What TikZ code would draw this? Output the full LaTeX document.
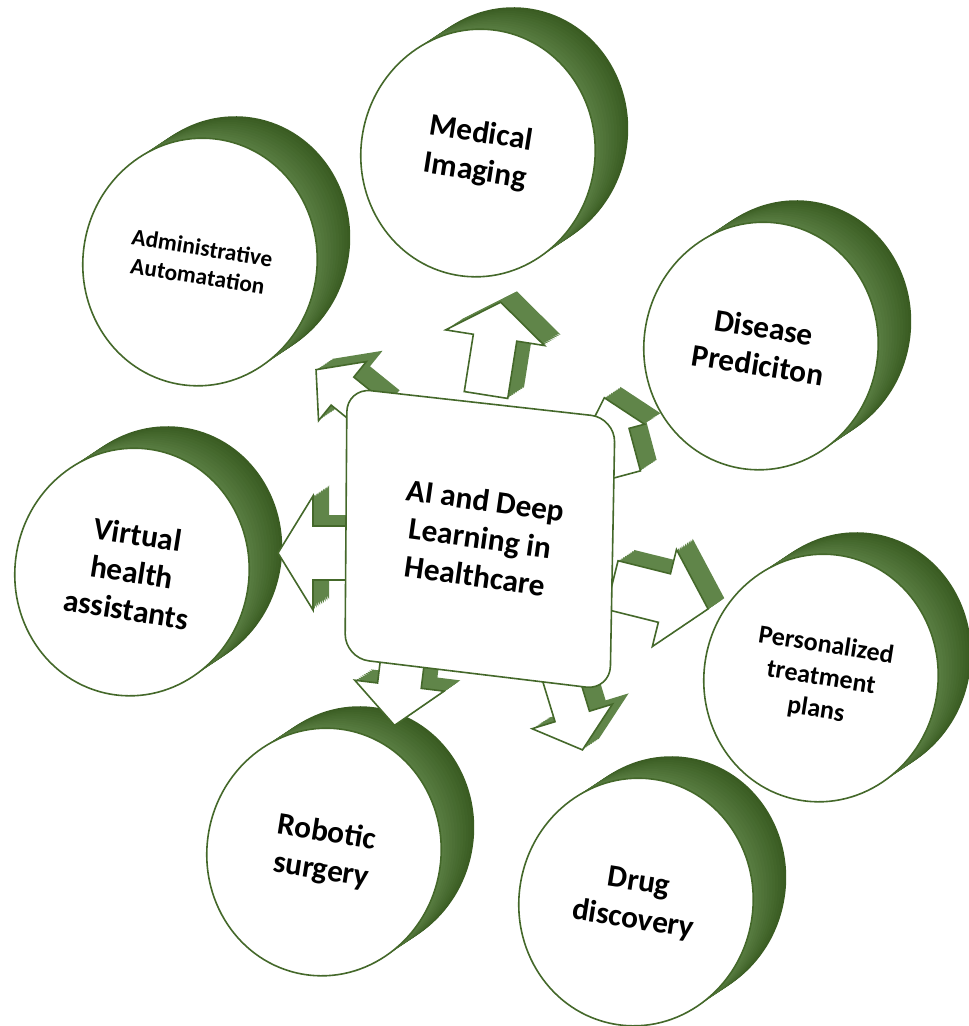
\documentclass[tikz,border=0pt]{standalone}
\usepackage{fontspec}
\setmainfont{Carlito}
\usetikzlibrary{calc}

\definecolor{rimdark}{RGB}{58,92,34}
\definecolor{rimlight}{RGB}{112,150,90}
\definecolor{edgegreen}{RGB}{68,104,42}

\tikzset{every picture/.style={line width=0.75pt}}
\tikzset{
  face/.style={fill=white, draw=edgegreen, line width=1.2pt},
  disk label/.style={align=center, inner sep=0.75pt, font=\fontsize{23.5}{28.5}\selectfont\bfseries},
  arrow shape/.style n args={4}{insert path={(0,-#2) -- (#1-#4,-#2) -- (#1-#4,-#3) -- (#1,0) -- (#1-#4,#3) -- (#1-#4,#2) -- (0,#2) -- cycle}}
}

% disk with rim: name, centre, label, font size
\newcommand{\disk}[4]{%
  \foreach \k in {12,11,...,1}{%
    \pgfmathtruncatemacro{\mix}{40+5*\k}
    \fill[rimdark!\mix!rimlight, shift={(#2)}, shift={(\k*2.75,-\k*1.83)}, rotate=10] (0,0) ellipse [x radius=117, y radius=124];
  }
  \draw[face, shift={(#2)}, rotate=10] (0,0) ellipse [x radius=117, y radius=124];
  \node[disk label, font=\fontsize#4\selectfont\bfseries, rotate=-9] (#1) at (#2) {#3};
}

\begin{document}
\begin{tikzpicture}[x=0.75pt,y=0.75pt,yscale=-1,xscale=1]
\useasboundingbox (0,0) rectangle (969,1026);

% Disks
\disk{adm}{200,262}{Administrative\\Automatation}{{17.5}{21.5}}
\disk{med}{478,153}{Medical\\Imaging}{{23.5}{28.5}}
\disk{dis}{761,346}{Disease\\Prediciton}{{23.5}{28.5}}
\disk{vir}{132,572}{Virtual\\health\\assistants}{{23.5}{28.5}}
\disk{per}{821,678}{Personalized\\treatment\\plans}{{19.5}{24.5}}
\disk{rob}{324,852}{Robotic\\surgery}{{23.5}{28.5}}
\disk{drg}{636,902}{Drug\\discovery}{{23.5}{28.5}}

% Block arrows: base x / base y / angle / length / shaft / head / head length
\foreach \x/\y/\a/\len/\sw/\hw/\hl in {486/395/-81/94/22/50/36, 372/415/-141/72/18/38/34, 625/475/-105/80/16/32/36, 350/553/180/72/27/57/35, 612/585/14/99/25/50/45, 405/640/97/86/22/45/40, 555/660/73/94/18/42/35}{
  \foreach \k in {9,...,1}{
    \fill[rimlight!70!rimdark, shift={(\x+\k*1.8,\y-\k*1.2)}, rotate=\a, arrow shape={\len}{\sw}{\hw}{\hl}];
  }
  \draw[face, shift={(\x,\y)}, rotate=\a, arrow shape={\len}{\sw}{\hw}{\hl}];
}

% Central block
\coordinate (tl) at (347,388);
\coordinate (tr) at (615,418);
\coordinate (br) at (610,690);
\coordinate (bl) at (345,658);
\foreach \k in {12,11,...,1}{
  \pgfmathtruncatemacro{\mix}{40+5*\k}
  \fill[rimdark!\mix!rimlight, shift={(\k*2.75,-\k*1.83)}, rounded corners=18pt] (tl) -- (tr) -- (br) -- (bl) -- cycle;
}
\draw[face, rounded corners=18pt] (tl) -- (tr) -- (br) -- (bl) -- cycle;
\node[disk label, rotate=-8] (hub) at (480,538) {AI and Deep\\Learning in\\Healthcare};

\end{tikzpicture}
\end{document}
